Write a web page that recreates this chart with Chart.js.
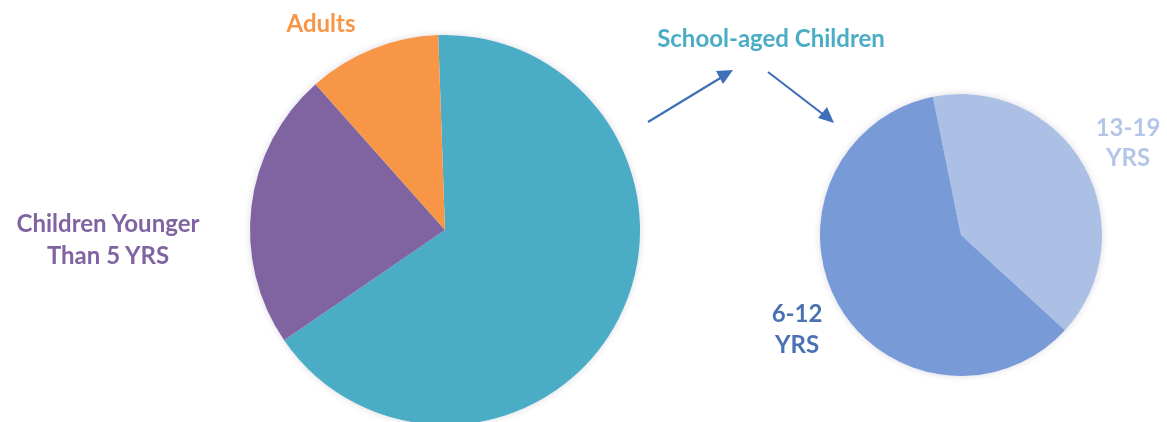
<!DOCTYPE html>
<html>
<head>
<meta charset="utf-8">
<script src="https://cdn.jsdelivr.net/npm/chart.js@4"></script>
<style>
  html, body { margin: 0; padding: 0; background: #fff; }
  body { width: 1167px; height: 422px; overflow: hidden; position: relative; font-family: 'Lato', sans-serif; font-weight: 700; }
  canvas { position: absolute; }
  #mainPie { left: 240px; top: 25px; }
  #schoolPie { left: 810px; top: 84px; }
  .lbl { position: absolute; text-align: center; white-space: nowrap; font-size: 24px; line-height: 24px; }
  svg { position: absolute; left: 0; top: 0; }
</style>
</head>
<body>
<canvas id="mainPie" width="410" height="410"></canvas>
<canvas id="schoolPie" width="302" height="302"></canvas>

<svg width="1167" height="422">
  <g stroke="#3f6fb6" stroke-width="2.2" fill="#3f6fb6">
    <line x1="648" y1="122" x2="722" y2="77" />
    <polygon points="733,70 716,71 723,84" stroke="none" />
    <line x1="768" y1="72" x2="824" y2="115" />
    <polygon points="834,123 818,118 827,107" stroke="none" />
  </g>
</svg>

<div class="lbl" style="left:261px; top:11px; width:120px; color:#f79646;">Adults</div>
<div class="lbl" style="left:621px; top:26px; width:300px; color:#4bacc6;">School-aged Children</div>
<div class="lbl" style="left:0px; top:207px; width:216px; line-height:32px; color:#8064a2;">Children Younger<br>Than 5 YRS</div>
<div class="lbl" style="left:757px; top:297px; width:80px; line-height:31px; color:#4a72b2;">6-12<br>YRS</div>
<div class="lbl" style="left:1088px; top:112px; width:80px; line-height:30px; color:#b4c6e7;">13-19<br>YRS</div>

<script>
// whole population split
const mainLabels = ['School-aged Children', 'Children Younger Than 5 YRS', 'Adults'];
const mainValues = [66, 23, 11];
const mainColors = ['#4bacc6', '#8064a2', '#f79646'];

// school-aged children split by age band
const schoolLabels = ['13-19 YRS', '6-12 YRS'];
const schoolValues = [40, 60];
const schoolColors = ['#abc0e4', '#789ad6'];

// soft halo behind the whole pie, drawn once so slice edges stay clean
const haloPlugin = {
    id: 'halo',
    beforeDatasetsDraw(chart) {
        const arc = chart.getDatasetMeta(0).data[0];
        if (!arc) return;
        const ctx = chart.ctx;
        ctx.save();
        ctx.shadowColor = 'rgba(60, 40, 90, 0.18)';
        ctx.shadowBlur = 7;
        ctx.fillStyle = '#fff';
        ctx.beginPath();
        ctx.arc(arc.x, arc.y, arc.outerRadius, 0, Math.PI * 2);
        ctx.fill();
        ctx.restore();
    }
};

function pieConfig(labels, values, colors, rotation) {
    return {
        type: 'pie',
        data: {
            labels: labels,
            datasets: [{
                data: values,
                backgroundColor: colors,
                borderWidth: 0,
                hoverOffset: 0
            }]
        },
        options: {
            responsive: false,
            animation: false,
            rotation: rotation,
            layout: { padding: 10 },
            events: [],
            plugins: {
                legend: { display: false },
                tooltip: { enabled: false }
            }
        },
        plugins: [haloPlugin]
    };
}

new Chart(document.getElementById('mainPie'), pieConfig(mainLabels, mainValues, mainColors, -2));
new Chart(document.getElementById('schoolPie'), pieConfig(schoolLabels, schoolValues, schoolColors, -11.5));
</script>
</body>
</html>
